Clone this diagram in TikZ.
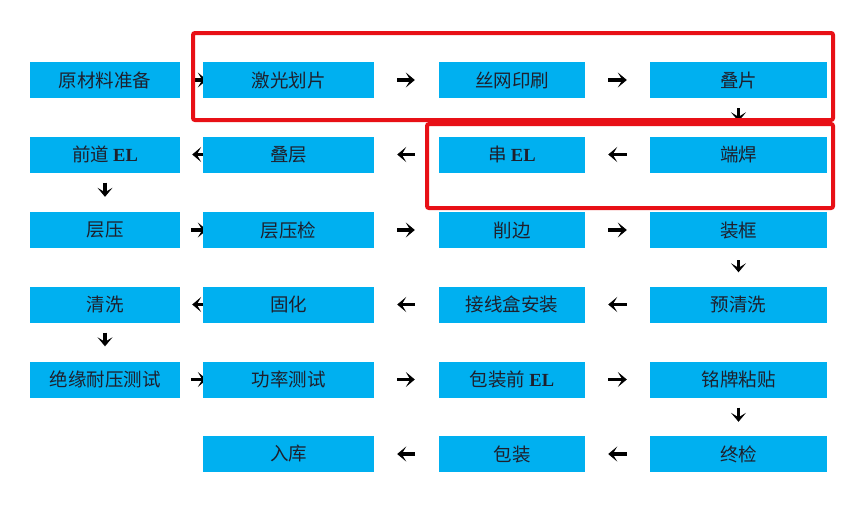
\documentclass[tikz,border=0pt]{standalone}
\usepackage{fontspec}
\setmainfont{Liberation Serif}
\newfontfamily\cjk{Noto Sans CJK SC}
\usetikzlibrary{arrows.meta}
\definecolor{boxblue}{RGB}{0,176,240}
\definecolor{framered}{RGB}{232,16,22}
\definecolor{txt}{RGB}{30,32,45}
\begin{document}
\begin{tikzpicture}[x=1pt,y=-1pt,
  stepbox/.style={fill=boxblue, draw=none, inner sep=0pt, minimum height=36pt,
    text=txt, font=\cjk\fontsize{18.5}{20}\selectfont},
  ghost/.style={draw=none, fill=none, inner sep=0pt, minimum height=36pt},
  wA/.style={minimum width=150pt},
  wB/.style={minimum width=171pt},
  wC/.style={minimum width=146pt},
  wD/.style={minimum width=177pt},
  arr/.style={line width=3.4pt, black,
    -{Stealth[length=9pt,width=15pt,inset=4.5pt]}},
  frame/.style={draw=framered, line width=4pt, rounded corners=2pt}]
\useasboundingbox (0,0) rectangle (864,514);
\fill[white] (0,0) rectangle (864,514);
% placeholders so that the arrows between columns 1 and 2 lie under the boxes
\node[ghost,wA] (ga1) at (105,80) {};
\node[ghost,wB] (gb1) at (288.5,80) {};
\node[ghost,wA] (ga2) at (105,154.5) {};
\node[ghost,wB] (gb2) at (288.5,154.5) {};
\node[ghost,wA] (ga3) at (105,230) {};
\node[ghost,wB] (gb3) at (288.5,230) {};
\node[ghost,wA] (ga4) at (105,304.5) {};
\node[ghost,wB] (gb4) at (288.5,304.5) {};
\node[ghost,wA] (ga5) at (105,379.5) {};
\node[ghost,wB] (gb5) at (288.5,379.5) {};
\draw[arr] ([xshift=11pt]ga1.east) -- ([xshift=4pt]gb1.west);
\draw[arr] ([xshift=8pt]gb2.west) -- ([xshift=12pt]ga2.east);
\draw[arr] ([xshift=11pt]ga3.east) -- ([xshift=4pt]gb3.west);
\draw[arr] ([xshift=8pt]gb4.west) -- ([xshift=12pt]ga4.east);
\draw[arr] ([xshift=11pt]ga5.east) -- ([xshift=4pt]gb5.west);
% boxes
\node[stepbox,wA] (a1) at (105,80) {原材料准备};
\node[stepbox,wB] (b1) at (288.5,80) {激光划片};
\node[stepbox,wC] (c1) at (512,80) {丝网印刷};
\node[stepbox,wD] (d1) at (738.5,80) {叠片};
\node[stepbox,wA] (a2) at (105,154.5) {前道 {\rmfamily\bfseries EL}};
\node[stepbox,wB] (b2) at (288.5,154.5) {叠层};
\node[stepbox,wC] (c2) at (512,154.5) {串 {\rmfamily\bfseries EL}};
\node[stepbox,wD] (d2) at (738.5,154.5) {端焊};
\node[stepbox,wA] (a3) at (105,230) {层压};
\node[stepbox,wB] (b3) at (288.5,230) {层压检};
\node[stepbox,wC] (c3) at (512,230) {削边};
\node[stepbox,wD] (d3) at (738.5,230) {装框};
\node[stepbox,wA] (a4) at (105,304.5) {清洗};
\node[stepbox,wB] (b4) at (288.5,304.5) {固化};
\node[stepbox,wC] (c4) at (512,304.5) {接线盒安装};
\node[stepbox,wD] (d4) at (738.5,304.5) {预清洗};
\node[stepbox,wA] (a5) at (105,379.5) {绝缘耐压测试};
\node[stepbox,wB] (b5) at (288.5,379.5) {功率测试};
\node[stepbox,wC] (c5) at (512,379.5) {包装前 {\rmfamily\bfseries EL}};
\node[stepbox,wD] (d5) at (738.5,379.5) {铭牌粘贴};
\node[stepbox,wB] (b6) at (288.5,454) {入库};
\node[stepbox,wC] (c6) at (512,454) {包装};
\node[stepbox,wD] (d6) at (738.5,454) {终检};
% horizontal arrows
\draw[arr] ([xshift=23pt]b1.east) -- ([xshift=-24pt]c1.west);
\draw[arr] ([xshift=23pt]c1.east) -- ([xshift=-23pt]d1.west);
\draw[arr] ([xshift=-24pt]c2.west) -- ([xshift=23pt]b2.east);
\draw[arr] ([xshift=-23pt]d2.west) -- ([xshift=23pt]c2.east);
\draw[arr] ([xshift=23pt]b3.east) -- ([xshift=-24pt]c3.west);
\draw[arr] ([xshift=23pt]c3.east) -- ([xshift=-23pt]d3.west);
\draw[arr] ([xshift=-24pt]c4.west) -- ([xshift=23pt]b4.east);
\draw[arr] ([xshift=-23pt]d4.west) -- ([xshift=23pt]c4.east);
\draw[arr] ([xshift=23pt]b5.east) -- ([xshift=-24pt]c5.west);
\draw[arr] ([xshift=23pt]c5.east) -- ([xshift=-23pt]d5.west);
\draw[arr] ([xshift=-24pt]c6.west) -- ([xshift=23pt]b6.east);
\draw[arr] ([xshift=-23pt]d6.west) -- ([xshift=23pt]c6.east);
% vertical arrows
\draw[arr] ([yshift=-10pt]d1.south) -- ([yshift=15pt]d2.north);
\draw[arr] ([yshift=-10pt]a2.south) -- ([yshift=15pt]a3.north);
\draw[arr] ([yshift=-12pt]d3.south) -- ([yshift=14pt]d4.north);
\draw[arr] ([yshift=-10pt]a4.south) -- ([yshift=15pt]a5.north);
\draw[arr] ([yshift=-10pt]d5.south) -- ([yshift=14pt]d6.north);
% red frames
\draw[frame] (193,33) rectangle (833,120);
\draw[frame] (427,124) rectangle (833,208);
\end{tikzpicture}
\end{document}
